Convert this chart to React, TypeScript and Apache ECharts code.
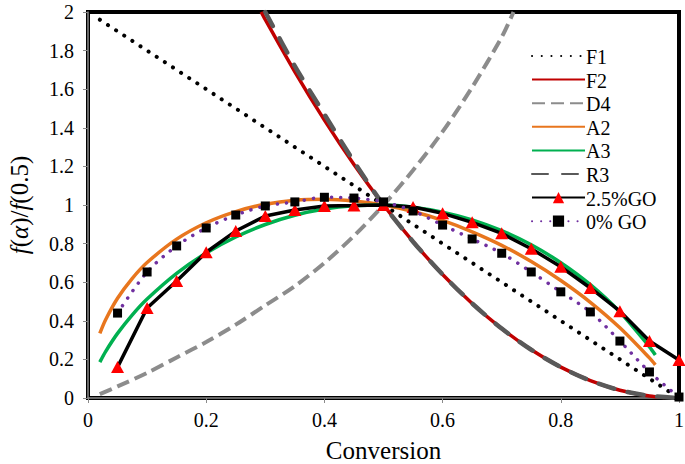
import React, { useEffect, useRef } from "react";
import * as echarts from "echarts";

const xTicks = [0, 0.2, 0.4, 0.6, 0.8, 1];
const yTicks = [0, 0.2, 0.4, 0.6, 0.8, 1, 1.2, 1.4, 1.6, 1.8, 2];
const legendNames = ["F1", "F2", "D4", "A2", "A3", "R3", "2.5%GO", "0% GO"];
const xTitle = "Conversion";

const F1: number[][] = [[0.02, 1.96], [0.1, 1.8], [0.2, 1.6], [0.3, 1.4], [0.4, 1.2], [0.5, 1.0], [0.6, 0.8], [0.7, 0.6], [0.8, 0.4], [0.9, 0.2], [0.99, 0.02]];
const F2: number[][] = [[0.293, 2.0], [0.3, 1.96], [0.35, 1.69], [0.4, 1.44], [0.45, 1.21], [0.5, 1.0], [0.55, 0.81], [0.6, 0.64], [0.65, 0.49], [0.7, 0.36], [0.75, 0.25], [0.8, 0.16], [0.85, 0.09], [0.9, 0.04], [0.95, 0.01], [0.975, 0.0025]];
const D4: number[][] = [[0.02, 0.02], [0.05, 0.06], [0.1, 0.13], [0.15, 0.21], [0.2, 0.29], [0.25, 0.38], [0.3, 0.48], [0.35, 0.58], [0.4, 0.7], [0.45, 0.84], [0.5, 1.0], [0.55, 1.18], [0.6, 1.38], [0.65, 1.61], [0.7, 1.87], [0.72, 2.0]];
const A2: number[][] = [[0.02, 0.335], [0.03, 0.407], [0.05, 0.517], [0.075, 0.62], [0.1, 0.702], [0.15, 0.823], [0.2, 0.908], [0.25, 0.966], [0.3, 1.004], [0.35, 1.025], [0.4, 1.03], [0.45, 1.021], [0.5, 1.0], [0.55, 0.966], [0.6, 0.92], [0.65, 0.861], [0.7, 0.791], [0.75, 0.707], [0.8, 0.609], [0.85, 0.496], [0.9, 0.364], [0.95, 0.208], [0.96, 0.172]];
const A3: number[][] = [[0.02, 0.186], [0.03, 0.242], [0.05, 0.335], [0.075, 0.431], [0.1, 0.513], [0.15, 0.646], [0.2, 0.751], [0.25, 0.834], [0.3, 0.899], [0.35, 0.947], [0.4, 0.979], [0.45, 0.996], [0.5, 1.0], [0.55, 0.989], [0.6, 0.963], [0.65, 0.923], [0.7, 0.867], [0.75, 0.794], [0.8, 0.701], [0.85, 0.587], [0.9, 0.445], [0.95, 0.265], [0.96, 0.223]];
const R3: number[][] = [[0.3, 2.0], [0.35, 1.72], [0.4, 1.47], [0.45, 1.225], [0.5, 1.0], [0.55, 0.81], [0.6, 0.64], [0.65, 0.49], [0.7, 0.36], [0.75, 0.25], [0.8, 0.16], [0.85, 0.09], [0.9, 0.04], [0.95, 0.012], [1.0, 0]];
const GO25: number[][] = [[0.05, 0.16], [0.1, 0.466], [0.15, 0.606], [0.2, 0.755], [0.25, 0.865], [0.3, 0.943], [0.35, 0.974], [0.4, 0.995], [0.45, 0.997], [0.5, 1.0], [0.55, 0.99], [0.6, 0.957], [0.65, 0.91], [0.7, 0.853], [0.75, 0.773], [0.8, 0.68], [0.85, 0.57], [0.9, 0.45], [0.95, 0.295], [1.0, 0.197]];
const GO0: number[][] = [[0.05, 0.44], [0.1, 0.653], [0.15, 0.788], [0.2, 0.881], [0.25, 0.948], [0.3, 0.995], [0.35, 1.016], [0.4, 1.04], [0.45, 1.036], [0.5, 1.016], [0.55, 0.969], [0.6, 0.896], [0.65, 0.824], [0.7, 0.75], [0.75, 0.653], [0.8, 0.55], [0.85, 0.446], [0.9, 0.295], [0.95, 0.135], [1.0, 0.005]];

const FONT = "Liberation Serif";

export default function App() {
  const ref = useRef<HTMLDivElement>(null);
  useEffect(() => {
    document.body.style.margin = "0";
    document.body.style.fontFamily = "'Liberation Serif', serif";
    const chart = echarts.init(ref.current!, null, { renderer: "svg" });
    const line = (name: string, data: number[][], color: string, width: number, type: any, cap: any = "butt", smooth: any = 0.3) => ({
      name,
      type: "line",
      data,
      smooth,
      showSymbol: false,
      symbol: "none",
      lineStyle: { color, width, type, cap },
      itemStyle: { color },
      z: 2,
    });
    const noSym = { opacity: 0 };
    chart.setOption({
      animation: false,
      textStyle: { fontFamily: FONT },
      grid: { left: 88, right: 6, top: 12, bottom: 66, show: true, borderColor: "#000", borderWidth: 4, outerBoundsMode: "none" },
      legend: {
        orient: "vertical",
        left: 526,
        top: 41,
        itemWidth: 53,
        itemHeight: 14,
        itemGap: 3.6,
        formatter: () => " ",
        textStyle: { fontSize: 20, lineHeight: 20 },
        data: legendNames.map((n, i) => (i < 6 ? { name: n, itemStyle: noSym } : { name: n })),
      },
      xAxis: {
        type: "value",
        min: 0,
        max: 1,
        interval: 0.2,
        axisLine: { show: true, lineStyle: { color: "#8a8a8a", width: 1.5 } },
        axisTick: { show: true, length: 5, lineStyle: { color: "#8a8a8a", width: 1 } },
        axisLabel: { show: false },
        splitLine: { show: false },
      },
      yAxis: {
        type: "value",
        min: 0,
        max: 2,
        interval: 0.2,
        axisLine: { show: true, lineStyle: { color: "#8a8a8a", width: 1.5 } },
        axisTick: { show: true, length: 5, lineStyle: { color: "#8a8a8a", width: 1 } },
        axisLabel: { show: false },
        splitLine: { show: false },
      },
      series: [
        line(legendNames[0], F1, "#000000", 4, [0.1, 9.6], "round", false),
        line(legendNames[1], F2, "#C00000", 3.5, "solid"),
        line(legendNames[2], D4, "#8c8c8c", 4, [13, 6]),
        line(legendNames[3], A2, "#E8761E", 3.5, "solid"),
        line(legendNames[4], A3, "#00B050", 3.5, "solid"),
        line(legendNames[5], R3, "#595959", 4.5, [16, 14], "round"),
        {
          name: legendNames[6],
          type: "line",
          data: GO25,
          smooth: false,
          symbol: "triangle",
          symbolSize: [13, 12],
          showSymbol: true,
          lineStyle: { color: "#000", width: 3.5 },
          itemStyle: { color: "#FF0000" },
          z: 4,
        },
        {
          name: legendNames[7],
          type: "line",
          data: GO0,
          smooth: 0.3,
          symbol: "rect",
          symbolSize: 9,
          showSymbol: true,
          lineStyle: { color: "#7030A0", width: 3.5, type: [0.1, 9], cap: "round" },
          itemStyle: { color: "#000" },
          z: 5,
        },
      ],
    });

    const px = (v: number[]) => chart.convertToPixel({ gridIndex: 0 }, v) as unknown as number[];
    const txt = (x: number, y: number, text: string, size: number, align: string, valign: string, extra: any = {}) => ({
      type: "text",
      x,
      y,
      z: 10,
      ...extra,
      style: {
        text,
        font: size + "px 'Liberation Serif', 'Times New Roman', serif",
        fill: "#000",
        align,
        verticalAlign: valign,
        textAlign: align,
        textVerticalAlign: valign,
        ...(extra.styleExtra || {}),
      },
    });
    const build = () => {
      const els: any[] = [];
      xTicks.forEach((v) => {
        const p = px([v, 0]);
        els.push(txt(p[0], p[1] + 22, String(v), 20, "center", "middle"));
      });
      yTicks.forEach((v) => {
        const p = px([0, v]);
        els.push(txt(p[0] - 14, p[1], String(v), 20, "right", "middle"));
      });
      const c0 = px([0, 0]);
      const c1 = px([1, 2]);
      els.push(txt((c0[0] + c1[0]) / 2, c0[1] + 52, xTitle, 25, "center", "middle"));
      els.push(
        txt(19, (c0[1] + c1[1]) / 2, "{i|f}({i|α})/{i|f}(0.5)", 25, "center", "middle", {
          rotation: Math.PI / 2,
          styleExtra: {
            rich: { i: { font: "italic 25px 'Liberation Serif', serif", fill: "#000" } },
          },
        })
      );
      legendNames.forEach((n, i) => {
        els.push(txt(586, 57 + 23.6 * i, n, 20, "left", "middle"));
      });
      return els;
    };
    chart.setOption({ graphic: { elements: build() } });
    let alive = true;
    const fonts: any = (document as any).fonts;
    if (fonts && fonts.load) {
      Promise.all([fonts.load("20px 'Liberation Serif'"), fonts.load("italic 25px 'Liberation Serif'")])
        .then(() => {
          if (!alive) return;
          chart.setOption({ graphic: { elements: build() } }, { replaceMerge: ["graphic"] } as any);
        })
        .catch(() => {});
    }
    return () => {
      alive = false;
      chart.dispose();
    };
  }, []);
  return <div ref={ref} style={{ width: 685, height: 464, fontFamily: "'Liberation Serif', serif" }} />;
}
